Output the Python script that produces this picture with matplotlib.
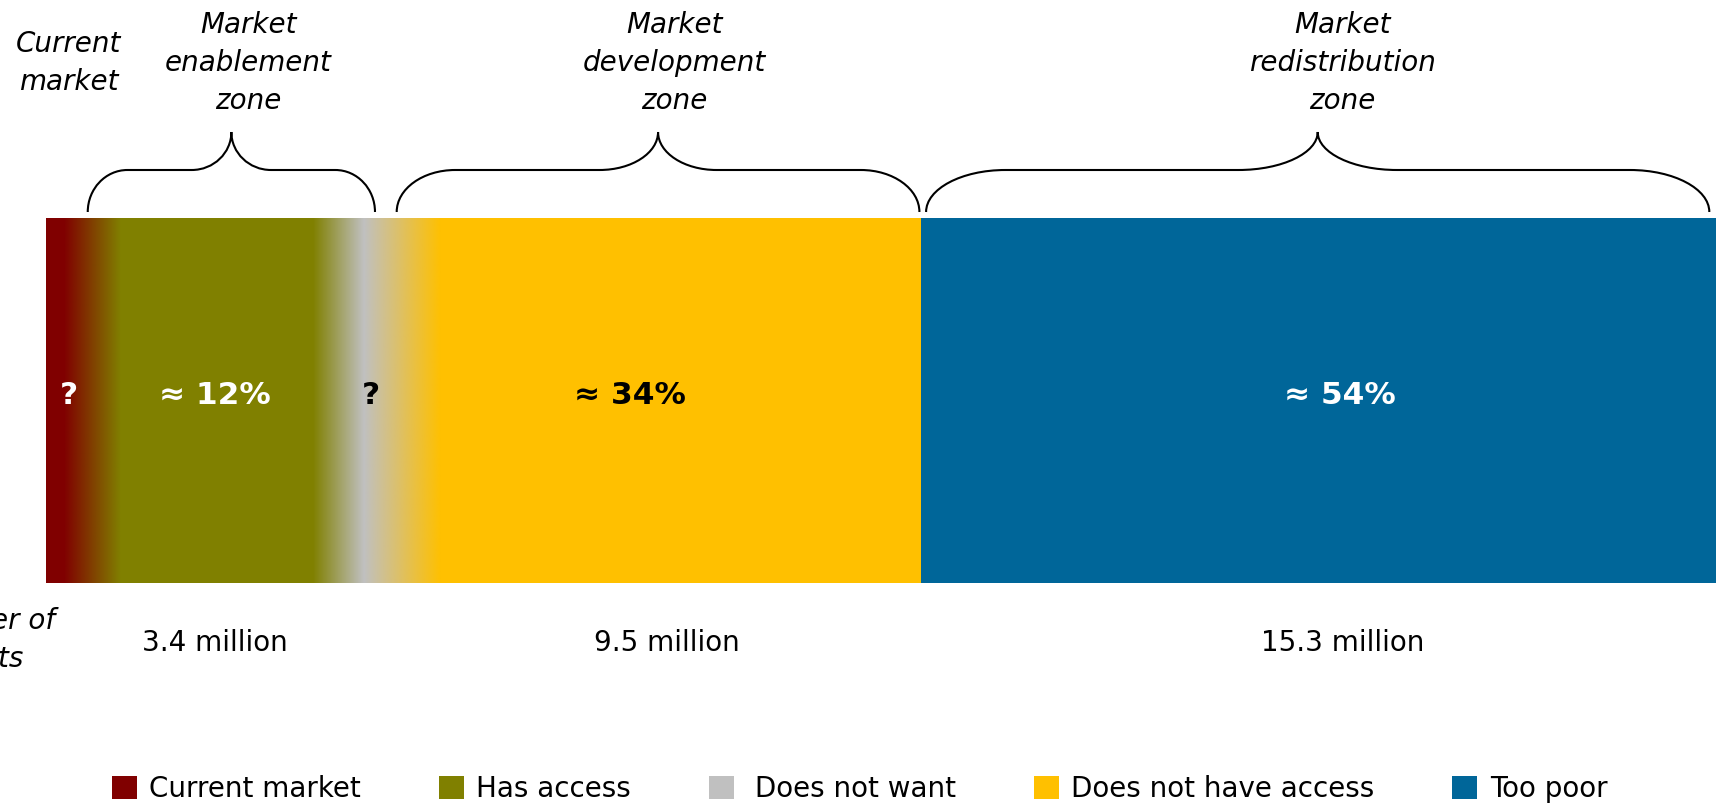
import numpy as np
import matplotlib.pyplot as plt
from matplotlib.patches import Patch, PathPatch
from matplotlib.path import Path
from matplotlib.colors import to_rgb

# segments of the single stacked bar (bar runs from 0 to 100)
segments = ["Current market", "Has access", " Does not want", "Does not have access", "Too poor"]
seg_colors = ["#800000", "#808000", "#C0C0C0", "#FFC000", "#006699"]
seg_edges = [0, 2.75, 17.5, 21.35, 52.4, 100]
blend = [1.7, 1.5, 2.3, 0]           # half-width of colour fade at each inner edge
seg_labels = ["?", "≈ 12%", "?", "≈ 34%", "≈ 54%"]
seg_label_colors = ["white", "white", "black", "black", "white"]

# zones marked with braces above the bar
zones = ["Market\nenablement\nzone", "Market\ndevelopment\nzone", "Market\nredistribution\nzone"]
zone_spans = [(2.5, 19.7), (21.0, 52.3), (52.7, 99.6)]
households = ["3.4 million", "9.5 million", "15.3 million"]

# layout (pixel based figure, bar units on x)
W, H = 1719, 808
px_per_unit = 16.7
bar_left_px = 46
bar_top, bar_bottom = 218, 583
seg_label_nudge = [0, 0, 0, -1.9, 1.3]
zone_label_nudge = [1.0, 1.0, 1.5]
hh_label_nudge = [-1.0, 0.5, 1.5]


def u(px):
    return (px - bar_left_px) / px_per_unit


fig = plt.figure(figsize=(W / 100, H / 100), dpi=100)
ax = fig.add_axes([0, 0, 1, 1])
ax.set_xlim(u(0), u(W))
ax.set_ylim(H, 0)
ax.axis("off")

bar_y = (bar_top + bar_bottom) / 2
bar_h = bar_bottom - bar_top
lefts = seg_edges[:-1]
widths = np.diff(seg_edges)
ax.barh(bar_y, widths, left=lefts, height=bar_h, color=seg_colors, linewidth=0)

# soft fades between neighbouring segments
for i, b in enumerate(blend):
    if b <= 0:
        continue
    c0 = np.array(to_rgb(seg_colors[i]))
    c1 = np.array(to_rgb(seg_colors[i + 1]))
    t = np.linspace(0, 1, 200)[:, None]
    grad = (c0 * (1 - t) + c1 * t)[None, :, :]
    e = seg_edges[i + 1]
    ax.imshow(grad, extent=[e - b, e + b, bar_bottom, bar_top],
              aspect="auto", interpolation="bilinear", zorder=2)

for i, lab in enumerate(seg_labels):
    x = (seg_edges[i] + seg_edges[i + 1]) / 2 + seg_label_nudge[i]
    ax.text(x, bar_y - 5, lab, ha="center", va="center", fontsize=22.5,
            fontweight="bold", color=seg_label_colors[i], zorder=3)


def brace(x0, x1, y_end=212, y_flat=170, y_tip=132):
    xm = (x0 + x1) / 2
    r = (x1 - x0) * 0.08 + 1.0
    k = 0.552
    verts = [
        (x0, y_end), (x0, y_end - k * (y_end - y_flat)), (x0 + r - k * r, y_flat), (x0 + r, y_flat),
        (xm - r, y_flat),
        (xm - r + k * r, y_flat), (xm, y_tip + k * (y_flat - y_tip)), (xm, y_tip),
        (xm, y_tip + k * (y_flat - y_tip)), (xm + r - k * r, y_flat), (xm + r, y_flat),
        (x1 - r, y_flat),
        (x1 - r + k * r, y_flat), (x1, y_end - k * (y_end - y_flat)), (x1, y_end),
    ]
    codes = [Path.MOVETO, Path.CURVE4, Path.CURVE4, Path.CURVE4,
             Path.LINETO,
             Path.CURVE4, Path.CURVE4, Path.CURVE4,
             Path.CURVE4, Path.CURVE4, Path.CURVE4,
             Path.LINETO,
             Path.CURVE4, Path.CURVE4, Path.CURVE4]
    ax.add_patch(PathPatch(Path(verts, codes), fill=False, lw=1.5, ec="black"))


for i, (z0, z1) in enumerate(zone_spans):
    brace(z0, z1)
    xc = (z0 + z1) / 2
    ax.text(xc + zone_label_nudge[i], 63, zones[i], ha="center", va="center",
            fontsize=20, style="italic", linespacing=1.45)
    ax.text(xc + hh_label_nudge[i], 643, households[i], ha="center", va="center",
            fontsize=20)

ax.text((seg_edges[0] + seg_edges[1]) / 2, 63, "Current\nmarket", ha="center",
        va="center", fontsize=20, style="italic", linespacing=1.45)
ax.text(u(-18), 640, "Number of\nadults", ha="center", va="center",
        fontsize=20, style="italic", linespacing=1.45)

handles = [Patch(facecolor=c, edgecolor="none") for c in seg_colors]
fig.legend(handles, segments, loc="center", bbox_to_anchor=(0.5, 1 - 789 / H),
           ncol=5, frameon=False, fontsize=20, handlelength=0.9,
           handleheight=0.9, handletextpad=0.45, columnspacing=2.8)

fig.savefig("out.png", dpi=100)
